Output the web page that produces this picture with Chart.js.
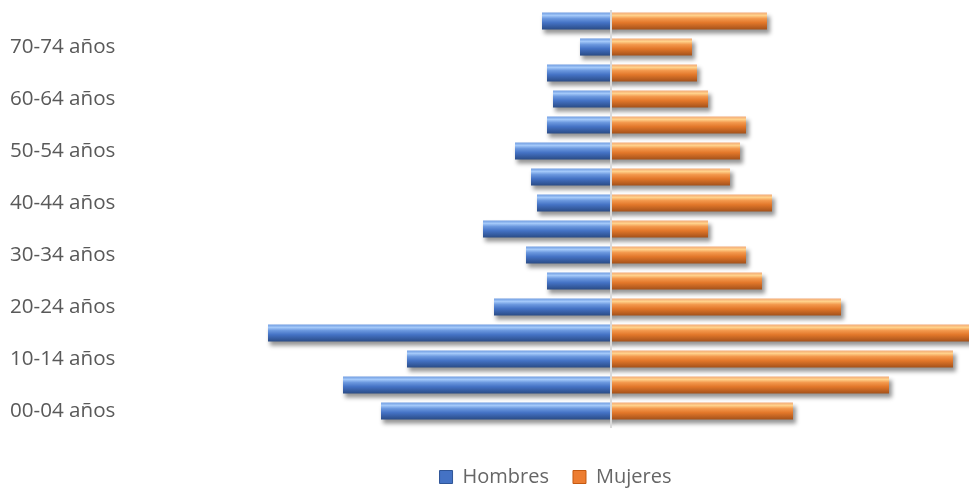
<!DOCTYPE html>
<html lang="es">
<head>
    <meta charset="UTF-8">
    <title>Pirámide de población</title>
    <script src="https://cdn.jsdelivr.net/npm/chart.js"></script>
    <style>
        html, body { margin: 0; padding: 0; background: #fff; overflow: hidden; }
        .chart-box { width: 969px; height: 489px; position: relative; }
    </style>
</head>
<body>
    <div class="chart-box">
        <canvas id="piramide"></canvas>
    </div>

    <script>
        // grupos de edad (de abajo hacia arriba)
        const grupos = ['00-04 años', '05-09 años', '10-14 años', '15-19 años', '20-24 años',
            '25-29 años', '30-34 años', '35-39 años', '40-44 años', '45-49 años', '50-54 años',
            '55-59 años', '60-64 años', '65-69 años', '70-74 años', '75 y más años'];
        const hombres = [230, 268, 204, 343, 117, 64, 85, 128, 74, 80, 96, 64, 58, 64, 31, 69];
        const mujeres = [182, 278, 342, 365, 230, 151, 135, 97, 161, 119, 129, 135, 97, 86, 81, 156];
        const series = ['Hombres', 'Mujeres'];

        const BAR_PCT = 0.66;

        // colores tipo "cilindro" de Excel
        const azul = [[0, '#6f9be0'], [0.18, '#a3c8f9'], [0.36, '#6a97de'], [0.6, '#4472c4'], [1, '#2a4b85']];
        const naranja = [[0, '#f3a976'], [0.18, '#ffd18a'], [0.36, '#f3984c'], [0.6, '#e2772a'], [1, '#a3511a']];

        function cilindro(stops) {
            return (c) => {
                const chart = c.chart;
                const ys = chart.scales.y;
                if (!chart.chartArea || !ys || c.dataIndex === undefined) return stops[3][1];
                const h = chart.chartArea.height / grupos.length * BAR_PCT;
                const cy = ys.getPixelForValue(c.dataIndex);
                const g = chart.ctx.createLinearGradient(0, cy - h / 2, 0, cy + h / 2);
                stops.forEach(s => g.addColorStop(s[0], s[1]));
                return g;
            };
        }

        // sombra difusa bajo cada barra + eje central
        const sombra = {
            id: 'sombra',
            beforeDatasetsDraw(chart) {
                const ctx = chart.ctx;
                const a = chart.chartArea;
                ctx.save();
                ctx.beginPath();
                ctx.rect(a.left, a.top, a.right - a.left, a.bottom - a.top + 10);
                ctx.clip();
                ctx.filter = 'blur(2px)';
                ctx.fillStyle = 'rgba(0,0,0,0.42)';
                chart.data.datasets.forEach((ds, i) => {
                    chart.getDatasetMeta(i).data.forEach(el => {
                        const p = el.getProps(['x', 'y', 'base', 'height'], true);
                        const l = Math.min(p.x, p.base), r = Math.max(p.x, p.base);
                        ctx.fillRect(l + 2, p.y - p.height / 2 + 4, r - l + 1, p.height);
                    });
                });
                ctx.restore();
            },
            afterDatasetsDraw(chart) {
                const ctx = chart.ctx;
                const x0 = chart.scales.x.getPixelForValue(0);
                ctx.save();
                ctx.strokeStyle = '#d9d9d9';
                ctx.lineWidth = 2;
                ctx.beginPath();
                ctx.moveTo(x0, chart.chartArea.top + 2);
                ctx.lineTo(x0, chart.chartArea.bottom + 4);
                ctx.stroke();
                ctx.restore();
            }
        };

        // la leyenda de Excel no queda centrada en el recorte
        const moverLeyenda = {
            id: 'moverLeyenda',
            afterLayout(chart) {
                chart.legend.left += 66;
                chart.legend.right += 66;
            }
        };

        new Chart(document.getElementById('piramide'), {
            type: 'bar',
            data: {
                labels: grupos,
                datasets: [{
                    label: series[0],
                    data: hombres.map(v => -v),
                    backgroundColor: cilindro(azul),
                    borderWidth: 0,
                    barPercentage: BAR_PCT,
                    categoryPercentage: 1
                }, {
                    label: series[1],
                    data: mujeres,
                    backgroundColor: cilindro(naranja),
                    borderWidth: 0,
                    barPercentage: BAR_PCT,
                    categoryPercentage: 1
                }]
            },
            options: {
                indexAxis: 'y',
                responsive: true,
                maintainAspectRatio: false,
                animation: false,
                devicePixelRatio: 1,
                layout: { padding: { top: 8, left: 10, right: 0, bottom: 0 } },
                scales: {
                    x: {
                        display: false,
                        stacked: true,
                        min: -470,
                        max: 358
                    },
                    y: {
                        stacked: true,
                        reverse: true,
                        grid: { display: false },
                        border: { display: false },
                        afterFit: (s) => { s.width = 131; s.paddingTop = 0; s.paddingBottom = 0; },
                        ticks: {
                            autoSkip: false,
                            crossAlign: 'far',
                            color: '#595959',
                            font: { family: 'Open Sans', size: 20.6 },
                            callback: (v, i) => i % 2 === 0 ? grupos[i] : ''
                        }
                    }
                },
                plugins: {
                    tooltip: { enabled: false },
                    legend: {
                        position: 'bottom',
                        maxHeight: 65,
                        title: { display: true, text: '', font: { size: 12 }, padding: { top: 0, bottom: 4.6 } },
                        labels: {
                            boxWidth: 13,
                            boxHeight: 13,
                            padding: 24,
                            color: '#595959',
                            font: { family: 'Open Sans', size: 20 },
                            generateLabels: () => [
                                { text: series[0], fillStyle: '#4472c4', strokeStyle: '#2f5597', lineWidth: 1, datasetIndex: 0 },
                                { text: series[1], fillStyle: '#ed7d31', strokeStyle: '#c55a11', lineWidth: 1, datasetIndex: 1 }
                            ]
                        }
                    }
                }
            },
            plugins: [sombra, moverLeyenda]
        });
    </script>
</body>
</html>
